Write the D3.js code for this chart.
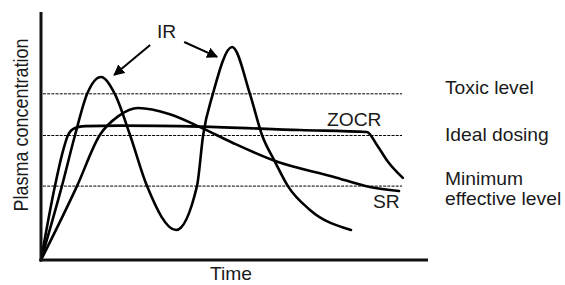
<!DOCTYPE html>
<html>
<head>
<meta charset="utf-8">
<script src="https://cdn.jsdelivr.net/npm/d3@7"></script>
<style>
  body { margin: 0; background: #fff; }
  text { font-family: "Liberation Sans", Arial, Helvetica, sans-serif; font-size: 17.5px; fill: #1a1a1a; }
  .curve { fill: none; stroke: #000; stroke-width: 2.6px; stroke-linejoin: round; stroke-linecap: round; }
  .level { stroke: #000; stroke-width: 1px; stroke-dasharray: 3,1.2; }
  .axis-line { stroke: #111; stroke-width: 3px; }
</style>
</head>
<body>
<script>
//Global sizes
const width = 565;
const height = 285;
const stretch = 1.1; //text in the picture is a bit wide

//Data: time (0-100) and plasma concentration (0-100)
const irTime  = [0, 5.4, 8.8, 11.9, 15.5, 19.1, 23.0, 27.4, 34.9, 40.3, 41.9, 44.4, 49.4, 54.0, 57.1, 60.5, 63.8, 69.5, 80.1];
const irConc  = [0, 29.8, 50.4, 66.9, 73.8, 66.9, 50.4, 29.8, 12.1, 29.8, 50.4, 66.9, 85.9, 66.9, 50.4, 39.5, 29.8, 20.2, 12.1];

const zocrTime = [0, 3.6, 5.4, 7.0, 8.8, 11.4, 20.4, 41.1, 66.9, 84.2, 86.8, 89.7, 93.5];
const zocrConc = [0, 29.8, 42.3, 50.4, 53.2, 54.0, 54.2, 53.8, 52.4, 51.6, 46.4, 39.5, 33.1];

const srTime = [0, 9.3, 15.2, 20.0, 25.1, 33.3, 41.1, 49.6, 60.7, 75.5, 85.0, 92.5];
const srConc = [0, 29.8, 50.4, 58.0, 61.3, 58.8, 53.6, 47.2, 39.8, 33.6, 29.4, 27.8];

//Reference levels
const levelNames = ["Toxic level", "Ideal dosing", "Minimum effective level"];
const levelValues = [67, 50.2, 29.8];

//IR arrows: [fromTime, fromConc, toTime, toConc]
const irArrows = [[28.2, 86.7, 18.9, 74.6], [37.0, 87.9, 45.5, 81.9]];

//Scales
const xScale = d3.scaleLinear().domain([0, 100]).range([41, 428]);
const yScale = d3.scaleLinear().domain([0, 100]).range([260, 12]);

const svg = d3.select("body").append("svg")
    .attr("width", width)
    .attr("height", height);

svg.append("defs").append("marker")
    .attr("id", "head")
    .attr("viewBox", "0 0 10 10")
    .attr("refX", 9).attr("refY", 5)
    .attr("markerWidth", 5.5).attr("markerHeight", 5.5)
    .attr("markerUnits", "strokeWidth")
    .attr("orient", "auto")
    .append("path").attr("d", "M0,0L10,5L0,10Z").attr("fill", "#000");

//Level lines
svg.selectAll(".level")
    .data(levelValues)
    .join("line")
    .attr("class", "level")
    .attr("x1", xScale(0.5)).attr("x2", xScale(93.3))
    .attr("y1", d => yScale(d)).attr("y2", d => yScale(d));

//Curves
const line = d3.line()
    .x(d => xScale(d[0]))
    .y(d => yScale(d[1]))
    .curve(d3.curveMonotoneX);

[[irTime, irConc], [zocrTime, zocrConc], [srTime, srConc]].forEach(s => {
    svg.append("path")
        .datum(s[0].map((t, i) => [t, s[1][i]]))
        .attr("class", "curve")
        .attr("d", line);
});

//Axes (plain lines, no ticks)
svg.append("line").attr("class", "axis-line")
    .attr("x1", xScale(0)).attr("x2", xScale(0))
    .attr("y1", yScale(0) + 1.5).attr("y2", yScale(100));
svg.append("line").attr("class", "axis-line")
    .attr("x1", xScale(0) - 1.5).attr("x2", xScale(100))
    .attr("y1", yScale(0)).attr("y2", yScale(0));

//IR arrows
svg.selectAll(".arrow")
    .data(irArrows)
    .join("line")
    .attr("class", "arrow")
    .attr("x1", d => xScale(d[0])).attr("y1", d => yScale(d[1]))
    .attr("x2", d => xScale(d[2])).attr("y2", d => yScale(d[3]))
    .attr("stroke", "#000").attr("stroke-width", 2)
    .attr("marker-end", "url(#head)");

//Text helper
function label(x, y, txt) {
    svg.append("text")
        .attr("transform", "translate(" + x + "," + y + ") scale(" + stretch + ",1)")
        .text(txt);
}

label(157, 38, "IR");
label(327, 126, "ZOCR");
label(373, 208, "SR");

//Level labels
label(445, 94, levelNames[0]);
label(445, 141, levelNames[1]);
label(445, 185, "Minimum");
label(445, 205, "effective level");

//Axis titles
label(210, 280, "Time");

svg.append("text")
    .attr("transform", "translate(28,125) scale(" + stretch + ",1) rotate(-90)")
    .attr("text-anchor", "middle")
    .style("font-size", "18px")
    .text("Plasma concentration");
</script>
</body>
</html>
